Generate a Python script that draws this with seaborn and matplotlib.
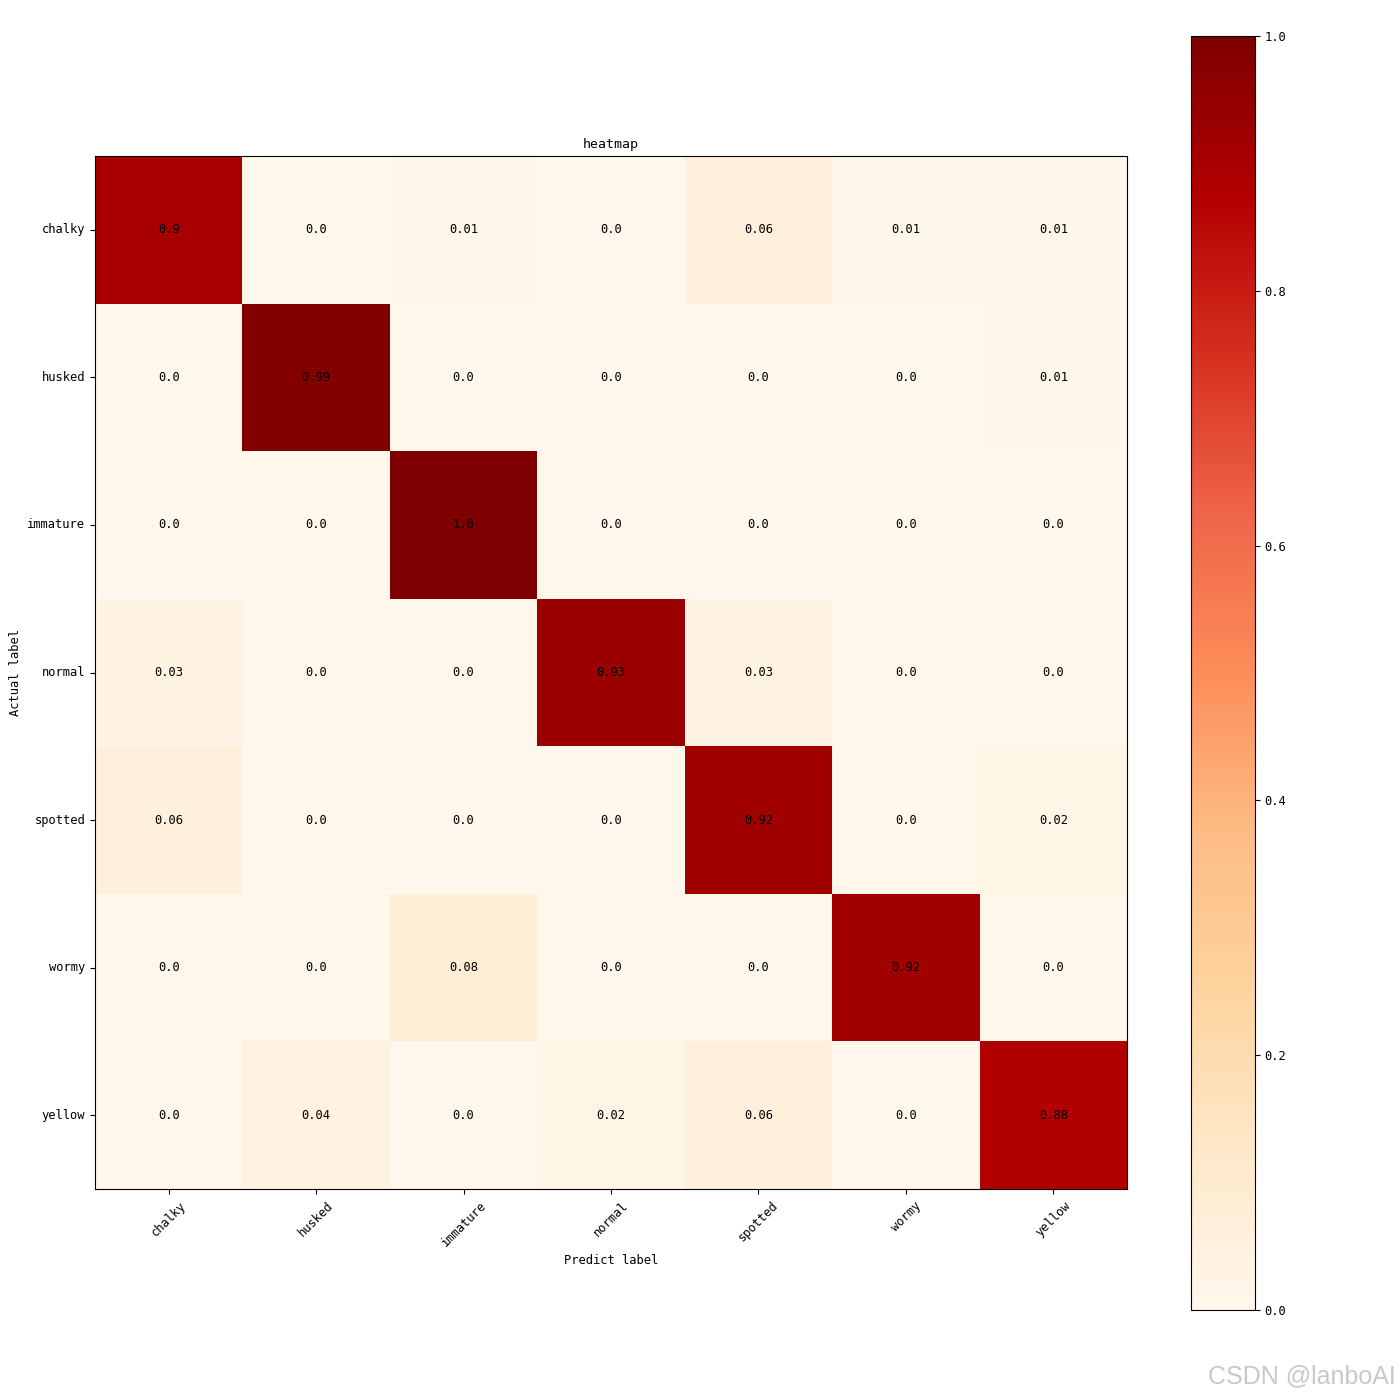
import numpy as np
import pandas as pd
import seaborn as sns
import matplotlib.pyplot as plt

# class names and normalised confusion matrix (rows = actual, cols = predicted)
classes = ['chalky', 'husked', 'immature', 'normal', 'spotted', 'wormy', 'yellow']
row_chalky = [0.9, 0.0, 0.01, 0.0, 0.06, 0.01, 0.01]
row_husked = [0.0, 0.99, 0.0, 0.0, 0.0, 0.0, 0.01]
row_immature = [0.0, 0.0, 1.0, 0.0, 0.0, 0.0, 0.0]
row_normal = [0.03, 0.0, 0.0, 0.93, 0.03, 0.0, 0.0]
row_spotted = [0.06, 0.0, 0.0, 0.0, 0.92, 0.0, 0.02]
row_wormy = [0.0, 0.0, 0.08, 0.0, 0.0, 0.92, 0.0]
row_yellow = [0.0, 0.04, 0.0, 0.02, 0.06, 0.0, 0.88]
cbar_ticks = [0.0, 0.2, 0.4, 0.6, 0.8, 1.0]

cm = pd.DataFrame([row_chalky, row_husked, row_immature, row_normal,
                   row_spotted, row_wormy, row_yellow],
                  index=classes, columns=classes)
labels = cm.map(lambda v: f'{v}')

plt.rcParams['font.family'] = ['DejaVu Sans Mono']
plt.rcParams['font.size'] = 8.7

fig = plt.figure(figsize=(14, 14), dpi=100)
ax = fig.add_axes([95 / 1400, 1 - 1189 / 1400, 1032 / 1400, 1033 / 1400])
cax = fig.add_axes([1191 / 1400, 1 - 1310 / 1400, 64 / 1400, 1274 / 1400])

sns.heatmap(cm, ax=ax, cbar_ax=cax, cmap='OrRd', vmin=0, vmax=1,
            annot=labels, fmt='', annot_kws={'color': 'black', 'fontsize': 8.7},
            square=False)

for side in ['top', 'bottom', 'left', 'right']:
    ax.spines[side].set_visible(True)
    ax.spines[side].set_color('black')
    ax.spines[side].set_linewidth(0.8)

ax.set_title('heatmap', fontsize=9.5)
ax.set_xlabel('Predict label')
ax.set_ylabel('Actual label')
ax.set_xticklabels(classes, rotation=45)
ax.set_yticklabels(classes, rotation=0)
ax.tick_params(length=3.5)

cb = ax.collections[0].colorbar
cb.set_ticks(cbar_ticks)
cb.set_ticklabels([f'{t:.1f}' for t in cbar_ticks])
cb.outline.set_visible(True)
cb.outline.set_edgecolor('black')
cb.outline.set_linewidth(0.8)

fig.text(0.997, 0.008, 'CSDN @lanboAI', ha='right', va='bottom',
         fontsize=18, color='#c8c8c8', family='Liberation Sans')

fig.savefig('out.png', dpi=100)
